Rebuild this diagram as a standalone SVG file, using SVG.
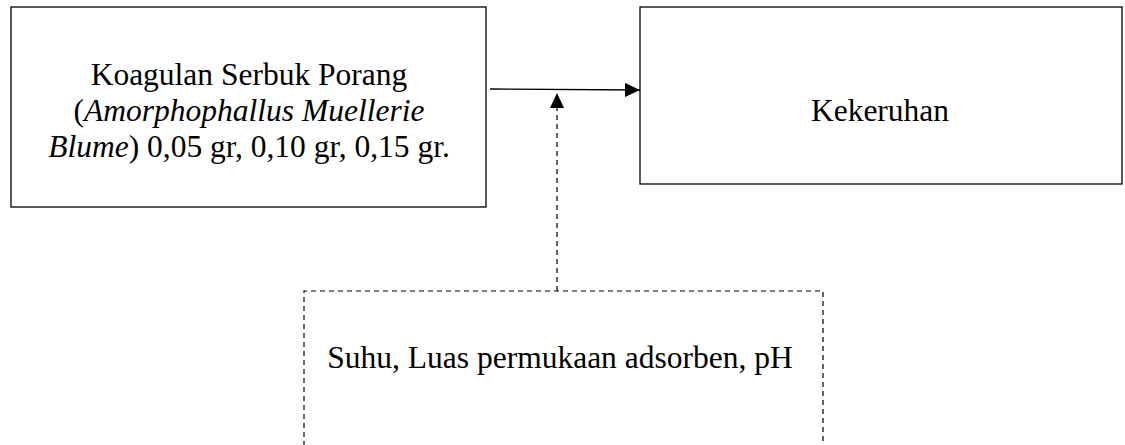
<svg xmlns="http://www.w3.org/2000/svg" width="1125" height="445" viewBox="0 0 1125 445">
<style>
.box{fill:#fff;stroke:#000;stroke-width:1.3}
.dash{fill:none;stroke:#000;stroke-width:1.2;stroke-dasharray:5,4}
.t{font-family:"Liberation Serif","Times New Roman",serif;font-size:31.5px;fill:#000;text-anchor:middle}
.line{stroke:#000;stroke-width:1.3;fill:none}
</style>
<defs>
<marker id="ah" markerWidth="15" markerHeight="14" refX="15" refY="7" orient="auto" markerUnits="userSpaceOnUse">
<path d="M0,0 L15,7 L0,14 Z" fill="#000"/>
</marker>
</defs>
<rect width="1125" height="445" fill="#fff"/>
<g id="node-koagulan">
<rect class="box" x="11" y="7" width="475" height="200"/>
<text class="t" x="249" y="85">Koagulan Serbuk Porang</text>
<text class="t" x="249" y="121">(<tspan font-style="italic">Amorphophallus Muellerie</tspan></text>
<text class="t" x="249" y="157"><tspan font-style="italic">Blume</tspan>) 0,05 gr, 0,10 gr, 0,15 gr.</text>
</g>
<g id="node-kekeruhan">
<rect class="box" x="640" y="7" width="482" height="177"/>
<text class="t" x="880" y="121">Kekeruhan</text>
</g>
<g id="node-faktor">
<path class="dash" d="M304,446 L304,291 L823,291 L823,446"/>
<text class="t" x="560" y="368">Suhu, Luas permukaan adsorben, pH</text>
</g>
<g id="connectors">
<line class="line" x1="490" y1="89" x2="640" y2="90" marker-end="url(#ah)"/>
<line class="dash" x1="557" y1="291" x2="557" y2="93" marker-end="url(#ah)"/>
</g>
</svg>
